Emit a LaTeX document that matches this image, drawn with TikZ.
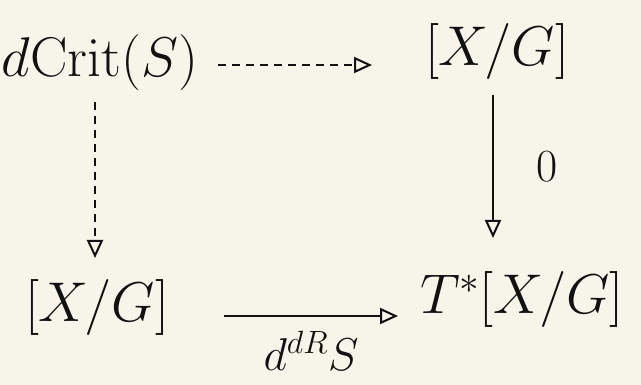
\documentclass[tikz,border=0pt]{standalone}
\usepackage{fix-cm}
\usetikzlibrary{arrows.meta}
\definecolor{paper}{HTML}{F7F5EA}
\definecolor{ink}{HTML}{111111}
\begin{document}
\begin{tikzpicture}[x=1pt,y=-1pt,
  obj/.style={inner sep=0pt,text=ink,font=\fontsize{56}{60}\selectfont},
  lbl/.style={inner sep=0pt,text=ink,font=\fontsize{46}{50}\selectfont},
  arr/.style={draw=ink,line width=2pt,-{Triangle[open,length=18pt,width=16pt,line width=2pt]}},
  darr/.style={arr,dash pattern=on 8pt off 6pt}]
\fill[paper] (0,0) rectangle (641,385);
\useasboundingbox (0,0) rectangle (641,385);
\node[obj] (a) at (100,63) {$d\mathrm{Crit}(S)$};
\node[obj] (b) at (497,52) {$[X/G]$};
\node[obj] (c) at (97,308) {$[X/G]$};
\node[obj] (d) at (522,300) {$T^{*}[X/G]$};
\coordinate (a1) at (218,65);
\coordinate (a2) at (372,65);
\coordinate (a3) at (95,102);
\coordinate (a4) at (95,258);
\coordinate (b1) at (493,95);
\coordinate (b2) at (493,238);
\coordinate (c1) at (224,316);
\coordinate (c2) at (398,316);
\draw[darr] (a1) -- (a2);
\draw[darr] (a3) -- (a4);
\draw[arr] (b1) -- node[lbl,right=42pt] (z) {$0$} (b2);
\draw[arr] (c1) -- node[lbl,below=14pt] (e) {$d^{dR}S$} (c2);
\end{tikzpicture}
\end{document}
